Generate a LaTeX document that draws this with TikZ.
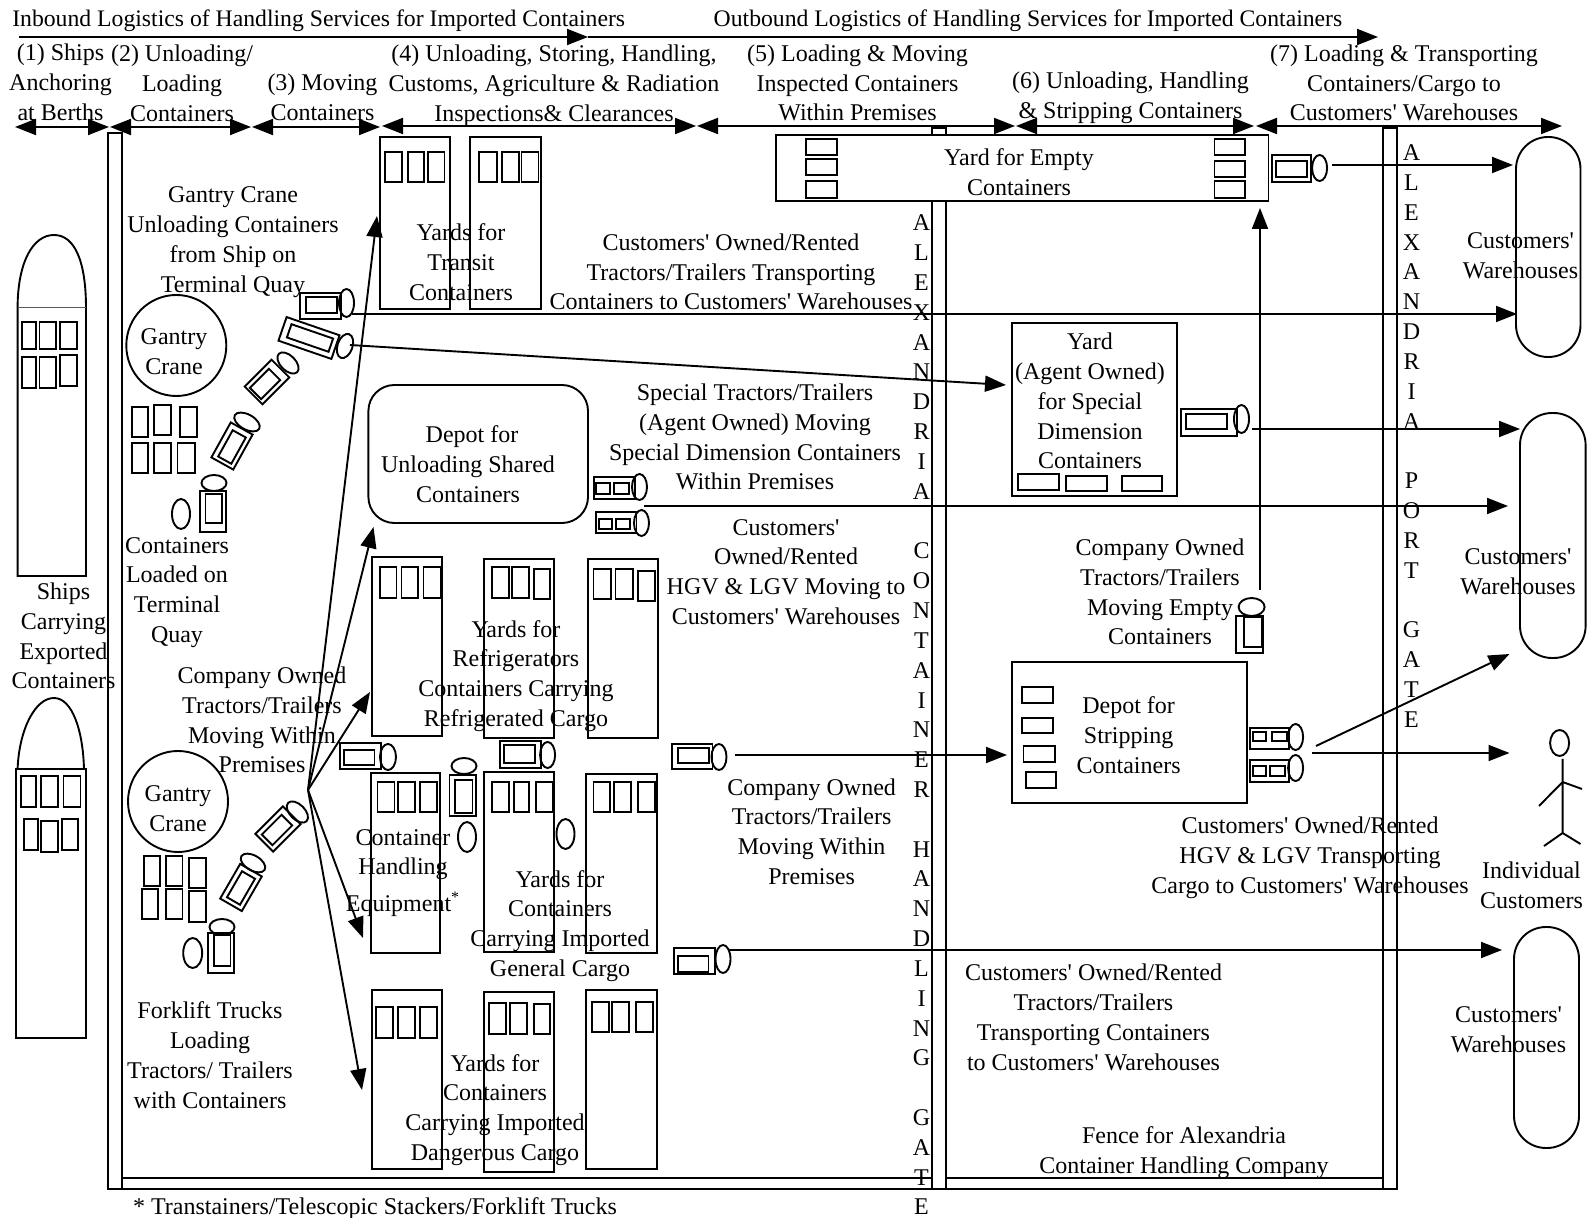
\documentclass[tikz,border=0pt]{standalone}
\usepackage{fontspec}
\setmainfont{Liberation Serif}
\newfontfamily\dfont{Liberation Serif}
\usetikzlibrary{arrows.meta,shapes.geometric}
\tikzset{
 linew/.style={line width=0.95pt},
 boxst/.style={draw,rectangle,inner sep=0pt,outer sep=0pt,linew},
 ellst/.style={draw,ellipse,inner sep=0pt,outer sep=0pt,linew},
 arr/.style={linew,-{Triangle[length=10.5pt,width=8pt]}},
 darr/.style={linew,{Triangle[length=10.5pt,width=8pt]}-{Triangle[length=10.5pt,width=8pt]}},
 txt/.style={inner sep=0pt,outer sep=0pt,align=center,font=\dfont\fontsize{12}{14.9}\selectfont},
 htxt/.style={txt,font=\dfont\fontsize{11.85}{14.9}\selectfont},
 vtxt/.style={txt,font=\dfont\fontsize{12}{14.91}\selectfont},
}
\newcounter{cc}
\newcommand\bx[5]{\node[boxst,minimum width={(#4-#2)*0.5pt},minimum height={(#5-#3)*0.5pt}] (#1) at ({(#2+#4)/2},{(#3+#5)/2}) {};}
\newcommand\rbx[6][]{\node[boxst,#1,minimum width={(#4)*0.5pt},minimum height={(#5)*0.5pt},rotate=#6] (#2) at (#3) {};}
\newcommand\ctr[4]{\stepcounter{cc}\bx{c\thecc}{#1}{#2}{#3}{#4}}
\newcommand\el[6][0]{\node[ellst,rotate=#1,minimum width={(#5)*0.5pt},minimum height={(#6)*0.5pt}] (#2) at (#3,#4) {};}
\begin{document}
\begin{tikzpicture}[x=0.5pt,y=-0.5pt]
\useasboundingbox (0,0) rectangle (1590,1218);
% fence
\bx{fenceL}{108}{133}{122}{1189}
\bx{fenceM}{932}{128}{946}{1189}
\bx{fenceR}{1383}{128}{1397}{1189}
\coordinate (fb1) at (108,1189); \coordinate (fb2) at (1397,1189);
\coordinate (ft1) at (122,1178); \coordinate (ft2) at (932,1178);
\coordinate (ft3) at (946,1178); \coordinate (ft4) at (1383,1178);
\draw[linew] (fb1) -- (fb2) (ft1) -- (ft2) (ft3) -- (ft4);
% ships
\draw[linew] (17.6,308) .. controls (17.6,262) and (33,235) .. (54,235) .. controls (75,235) and (86,262) .. (86,308) -- (86,576) -- (17.6,576) -- cycle;
\draw[line width=0.5pt,gray!70!black] (17.6,308) -- (86,308);
\ctr{22}{322}{36}{349}\ctr{39.5}{322}{56.4}{349}\ctr{60}{322}{77}{349}
\ctr{22}{357}{36}{388}\ctr{39.5}{357}{56.4}{388}\ctr{60}{355}{77}{386}
\draw[linew] (17.6,769) .. controls (19,730) and (35,698) .. (54,698) .. controls (72,698) and (83,730) .. (84,769);
\bx{ship2}{16}{769}{86}{1038}
\ctr{21}{776}{36}{807}\ctr{41}{776}{58}{807}\ctr{63.5}{776}{80.5}{807}
\ctr{23.7}{819}{37.9}{850}\ctr{41}{821}{58}{852}\ctr{62}{819}{78.4}{850}
% gantry cranes
\el{gc1}{176.3}{345.5}{100}{101}
\el{gc2}{178}{801.5}{100}{101}
% containers beside cranes
\ctr{132}{407}{148}{437}\ctr{154}{405}{171}{435}\ctr{180}{407}{197}{437}
\ctr{132}{443}{148}{473}\ctr{154}{443}{171}{473}\ctr{177.5}{443}{195}{473}
\ctr{144}{856}{160}{886}\ctr{166}{856}{182.5}{886}\ctr{189}{858}{206}{888}
\ctr{142}{889}{158}{919}\ctr{166}{889}{182.5}{919}\ctr{189}{891}{206}{922}
% vehicles
\bx{v0}{300}{293}{341}{319}\bx{v0i}{306}{297}{337}{313}\el{v0c}{346.5}{303}{15}{28}
\rbx{v1}{309,338}{56}{25}{-19}\rbx{v1i}{310,338}{44}{14}{-19}\el[-19]{v1c}{345}{346}{15}{25}
\rbx{v2}{267,382}{38}{25}{45}\rbx{v2i}{265,384}{27}{16}{45}\el[45]{v2c}{288}{363}{15}{26}
\rbx{v3}{232,446}{40}{25}{61}\rbx{v3i}{232,447}{30}{15}{61}\el[61]{v3c}{247}{422}{15}{28}
\bx{v4}{200}{491}{226}{532}\bx{v4i}{205.5}{494}{222.4}{523}\el{v4c}{214}{483}{25}{16}\el{v4s}{181}{514}{18}{30}
\bx{v5}{340}{743}{381}{769}\bx{v5i}{344}{750}{374.5}{765}\el{v5c}{388}{757}{16}{26}
\bx{v6}{499.6}{741}{541}{768}\bx{v6i}{503.6}{745}{535}{763}\el{v6c}{547.6}{755}{15}{26}
\bx{v7}{449.5}{775}{476}{816}\bx{v7i}{455}{780}{472.5}{813}\el{v7c}{464}{766}{25}{16}\el{v7s}{467}{837}{18}{30}
\el{v6s}{565.5}{834}{18}{30}
\bx{v8}{672}{744}{712.5}{769}\bx{v8i}{677.7}{748}{709}{763}\el{v8c}{719}{757}{15}{26}
\rbx{v9}{278,829}{39}{25}{45}\rbx{v9i}{277,830}{28}{15}{45}\el[45]{v9c}{297.4}{812}{15}{26}
\rbx{v10}{241,887.5}{40}{25}{60}\rbx{v10i}{241,888}{30}{15}{60}\el[60]{v10c}{253}{863}{15}{27}
\bx{v11}{208}{933}{234}{973}\bx{v11i}{214}{935}{230.5}{966}\el{v11c}{222}{927}{25}{16}\el{v11s}{192.7}{953}{19}{30}
\bx{v12}{674}{948}{715}{974}\bx{v12i}{678}{956}{708.5}{972}\el{v12c}{723}{959}{15}{28}
\bx{t1}{594}{477}{635}{499}\ctr{596}{483}{610.4}{494}\ctr{614}{483}{629}{494}\el{t1c}{639.5}{487}{15}{26}
\bx{t2}{596}{512}{636.5}{533}\ctr{598.6}{519}{612}{529}\ctr{616}{519}{630}{529}\el{t2c}{641.5}{523}{15}{26}
\bx{t3}{1250}{728}{1289}{749}\ctr{1252.7}{732}{1266}{741}\ctr{1272}{732}{1287}{741}\el{t3c}{1295.6}{737}{15}{26}
\bx{t4}{1250}{760}{1289}{782}\ctr{1252.7}{766}{1266}{776}\ctr{1269.6}{766}{1285}{776}\el{t4c}{1295.6}{768}{15}{26}
\bx{v14}{1180.7}{409}{1236.8}{436}\bx{v14i}{1186}{414}{1226.6}{429}\el{v14c}{1241.5}{419}{15}{28}
\bx{v15}{1236.4}{616}{1262.8}{653}\bx{v15i}{1244}{617}{1261.8}{647}\el{v15c}{1251.6}{607}{26}{18}
% yards for transit
\bx{yA}{379.6}{137}{450}{309}\ctr{385}{152}{402}{182}\ctr{408}{152}{424}{182}\ctr{427.6}{152}{444.5}{182}
\bx{yB}{470}{137}{541}{309}\ctr{479}{152}{497}{182}\ctr{502}{152}{519}{182}\ctr{521.5}{152}{538.5}{182}
% depot shared
\node[boxst,rounded corners=13pt,minimum width={(588-368.4)*0.5pt},minimum height={(523-385)*0.5pt}] (depot) at ({(368.4+588)/2},{(385+523)/2}) {};
% refrigerators
\bx{rA}{372}{557}{442}{736}\ctr{379.6}{567}{396.5}{598}\ctr{401.5}{567}{418.4}{598}\ctr{423.5}{567}{441}{598}
\bx{rB}{484}{559}{554.3}{738}\ctr{492}{567}{508.7}{598}\ctr{512}{567}{529}{598}\ctr{534}{569}{550}{599}
\bx{rC}{588}{559}{658.4}{738}\ctr{593.5}{569}{611}{599}\ctr{615.5}{569}{633}{599}\ctr{638}{571}{655}{601}
% general
\bx{gA}{371}{773}{440.4}{953}\ctr{377.5}{782}{394.5}{812}\ctr{398}{782}{415}{812}\ctr{420}{782}{437}{812}
\bx{gB}{484}{772}{554}{952}\ctr{492}{782}{508.7}{812}\ctr{514}{782}{529}{812}\ctr{536}{782}{553}{812}
\bx{gC}{586}{774}{657}{953}\ctr{593.5}{782}{610.4}{812}\ctr{614}{782}{631}{812}\ctr{638}{782}{655}{812}
% dangerous
\bx{dA}{372}{990}{442}{1169}\ctr{376}{1007}{393}{1038}\ctr{398}{1007}{415}{1038}\ctr{420}{1007}{437}{1038}
\bx{dB}{484}{992}{554}{1172}\ctr{489.4}{1003}{506}{1034}\ctr{510}{1003}{527}{1034}\ctr{534}{1004}{550}{1034}
\bx{dC}{586.4}{990}{656.8}{1169}\ctr{592}{1002}{609}{1032}\ctr{612}{1002}{629}{1032}\ctr{636}{1002}{653}{1032}
% yard for empty
\node[boxst,fill=white,minimum width={(1268.5-776)*0.5pt},minimum height={(201-135)*0.5pt}] (yE) at ({(776+1268.5)/2},168) {};
\ctr{806}{139}{837}{155}\ctr{806}{159}{837}{175}\ctr{806}{181}{837}{198}
\ctr{1214.5}{139}{1245}{155}\ctr{1214.5}{161}{1245}{177}\ctr{1214.5}{181}{1245}{198}
\bx{v13}{1272}{155}{1311}{182}\bx{v13i}{1275.6}{161}{1307}{177}\el{v13c}{1319.6}{168}{15}{26}
% agent yard
\bx{yS}{1011.6}{323}{1176.6}{496}
\ctr{1018.4}{474}{1059}{490}\ctr{1065.7}{476}{1106.6}{491}\ctr{1122}{476}{1162.4}{491}
% depot stripping
\bx{dS}{1011.6}{662}{1246.6}{803}
\ctr{1022}{687}{1053}{703}\ctr{1022}{718}{1053}{733}\ctr{1023.5}{746}{1054.6}{762}\ctr{1026}{772}{1056}{788}
% warehouses
\node[boxst,rounded corners=16pt,minimum width={(1580.5-1516)*0.5pt},minimum height={(357-137)*0.5pt}] (w1) at ({(1516+1580.5)/2},247) {};
\node[boxst,rounded corners=16pt,minimum width={(1585.6-1520)*0.5pt},minimum height={(658-413)*0.5pt}] (w2) at ({(1520+1585.6)/2},535.5) {};
\node[boxst,rounded corners=16pt,minimum width={(1579-1514)*0.5pt},minimum height={(1148-927)*0.5pt}] (w3) at ({(1514+1579)/2},1037.5) {};
% person
\el{phead}{1559.6}{743}{19}{26}
\coordinate (pn) at (1562.6,759); \coordinate (ph) at (1562.6,833); \coordinate (ps) at (1562.6,782);
\coordinate (pal) at (1539,806); \coordinate (par) at (1582,789);
\coordinate (pll) at (1544,846); \coordinate (plr) at (1580.5,844);
\draw[linew] (pn) -- (ph) (pal) -- (ps) -- (par) (pll) -- (ph) -- (plr);
% header arrows
\coordinate (h0) at (19,37) ; \coordinate (h1) at (588,37); \coordinate (h2) at (1378,37);
\draw[arr] (h0) -- (h1); \draw[arr] (h1) -- (h2);
\coordinate (s0) at (15,127); \coordinate (s1a) at (109,127); \coordinate (s1b) at (110,127);
\coordinate (s2a) at (251,127); \coordinate (s2b) at (252,127); \coordinate (s3a) at (380,127);
\coordinate (s3b) at (382,126); \coordinate (s4a) at (696,126); \coordinate (s4b) at (697,126);
\coordinate (s5a) at (1015,126); \coordinate (s5b) at (1016,126); \coordinate (s6a) at (1254,126);
\coordinate (s6b) at (1256,126); \coordinate (s7a) at (1562,126);
\draw[darr] (s0) -- (s1a); \draw[darr] (s1b) -- (s2a); \draw[darr] (s2b) -- (s3a);
\draw[darr] (s3b) -- (s4a); \draw[darr] (s4b) -- (s5a); \draw[darr] (s5b) -- (s6a); \draw[darr] (s6b) -- (s7a);
% fan of arrows
\coordinate (fan) at (308,790);
\coordinate (f1) at (377,216); \coordinate (f2) at (373.5,527); \coordinate (f3) at (370,692);
\coordinate (f4) at (363,938); \coordinate (f5) at (362,1090);
\draw[arr] (fan) -- (f1); \draw[arr] (fan) -- (f2); \draw[arr] (fan) -- (f3); \draw[arr] (fan) -- (f4); \draw[arr] (fan) -- (f5);
% connectors
\coordinate (a1) at (351.5,314); \coordinate (a1e) at (1517,314); \draw[arr] (a1) -- (a1e);
\coordinate (a2) at (350,345); \coordinate (a2e) at (1006,385); \draw[arr] (a2) -- (a2e);
\coordinate (a3) at (1332,165); \coordinate (a3e) at (1513,165); \draw[arr] (a3) -- (a3e);
\coordinate (a4) at (1252,429); \coordinate (a4e) at (1520,429); \draw[arr] (a4) -- (a4e);
\coordinate (a5) at (644,506); \coordinate (a5e) at (1508,506); \draw[arr] (a5) -- (a5e);
\coordinate (a6) at (1260,590); \coordinate (a6e) at (1260,208); \draw[arr] (a6) -- (a6e);
\coordinate (a7) at (734.5,755); \coordinate (a7e) at (1007,755); \draw[arr] (a7) -- (a7e);
\coordinate (a8) at (1316,746); \coordinate (a8e) at (1509.5,654); \draw[arr] (a8) -- (a8e);
\coordinate (a9) at (1312,753); \coordinate (a9e) at (1509.5,753); \draw[arr] (a9) -- (a9e);
\coordinate (a10) at (729.4,950); \coordinate (a10e) at (1502,950); \draw[arr] (a10) -- (a10e);
% text
\node[htxt] (tin) at (318.7,20.5) {Inbound Logistics of Handling Services for Imported Containers};
\node[htxt] (tout) at (1028,20.5) {Outbound Logistics of Handling Services for Imported Containers};
\node[txt] (st1) at (60.5,82) {(1) Ships\\Anchoring\\at Berths};
\node[txt] (st2) at (182,83) {(2) Unloading/\\Loading\\Containers};
\node[txt] (st3) at (322.5,97) {(3) Moving\\Containers};
\node[txt] (st4) at (554,86) {(4) Unloading, Storing, Handling,\\Customs, Agriculture \& Radiation\\Inspections\& Clearances};
\node[txt] (st5) at (857.5,83) {(5) Loading \& Moving\\Inspected Containers\\Within Premises};
\node[txt] (st6) at (1130.5,97.5) {(6) Unloading, Handling\\\& Stripping Containers};
\node[txt] (st7) at (1404,83) {(7) Loading \& Transporting\\Containers/Cargo to\\Customers' Warehouses};
\node[txt] (tgc) at (233,242) {Gantry Crane\\Unloading Containers\\from Ship on\\Terminal Quay};
\node[txt] (tg1) at (174,352) {Gantry\\Crane};
\node[txt] (tg2) at (178,809) {Gantry\\Crane};
\node[txt] (tload) at (177,592.5) {Containers\\Loaded on\\Terminal\\Quay};
\node[txt] (tship) at (63.5,636) {Ships\\Carrying\\Exported\\Containers};
\node[txt] (tcomp) at (262,720) {Company Owned\\Tractors/Trailers\\Moving Within\\Premises};
\node[txt] (tche) at (403,873) {Container\\Handling\\[3.5pt]Equipment\textsuperscript{*}};
\node[txt] (tfork) at (210,1055) {Forklift Trucks\\Loading\\Tractors/ Trailers\\with Containers};
\node[txt] (tfoot) at (375,1209) {* Transtainers/Telescopic Stackers/Forklift Trucks};
\node[txt] (ttr) at (461,262) {Yards for\\Transit\\Containers};
\node[txt] (tdep) at (468,464) {\hspace*{4pt}Depot for\\Unloading Shared\\Containers};
\node[txt] (tref) at (516,676) {Yards for\\Refrigerators\\Containers Carrying\\Refrigerated Cargo};
\node[txt] (tgen) at (560,926) {Yards for\\Containers\\Carrying Imported\\General Cargo};
\node[txt] (tdan) at (495,1110) {Yards for\\Containers\\Carrying Imported\\Dangerous Cargo};
\node[txt] (tc1) at (731,272) {Customers' Owned/Rented\\Tractors/Trailers Transporting\\Containers to Customers' Warehouses};
\node[txt] (tsp) at (755,437) {Special Tractors/Trailers\\(Agent Owned) Moving\\Special Dimension Containers\\Within Premises};
\node[txt] (thgv) at (786,572) {Customers'\\Owned/Rented\\HGV \& LGV Moving to\\Customers' Warehouses};
\node[txt] (tcm) at (811.6,831.5) {Company Owned\\Tractors/Trailers\\Moving Within\\Premises};
\node[txt] (tye) at (1019,172) {Yard for Empty\\Containers};
\node[txt] (tys) at (1090,401) {Yard\\(Agent Owned)\\for Special\\Dimension\\Containers};
\node[txt] (tds) at (1128.6,735) {Depot for\\Stripping\\Containers};
\node[txt] (tce) at (1160,592) {Company Owned\\Tractors/Trailers\\Moving Empty\\Containers};
\node[txt] (thc) at (1310,858) {Customers' Owned/Rented\\HGV \& LGV Transporting\\Cargo to Customers' Warehouses};
\node[txt] (tind) at (1531.5,885) {Individual\\Customers};
\node[txt] (tct) at (1093.5,1017.5) {Customers' Owned/Rented\\Tractors/Trailers\\Transporting Containers\\to Customers' Warehouses};
\node[txt] (tfen) at (1184,1153) {Fence for Alexandria\\Container Handling Company};
\node[txt] (tw1) at (1520.5,256) {Customers'\\Warehouses};
\node[txt] (tw2) at (1518,571.5) {Customers'\\Warehouses};
\node[txt] (tw3) at (1508.5,1030) {Customers'\\Warehouses};
\node[vtxt] (tv1) at (921.5,715) {A\\L\\E\\X\\A\\N\\D\\R\\I\\A\\~\\C\\O\\N\\T\\A\\I\\N\\E\\R\\~\\H\\A\\N\\D\\L\\I\\N\\G\\~\\G\\A\\T\\E};
\node[vtxt] (tv2) at (1411.5,436) {A\\L\\E\\X\\A\\N\\D\\R\\I\\A\\~\\P\\O\\R\\T\\~\\G\\A\\T\\E};
\end{tikzpicture}
\end{document}
